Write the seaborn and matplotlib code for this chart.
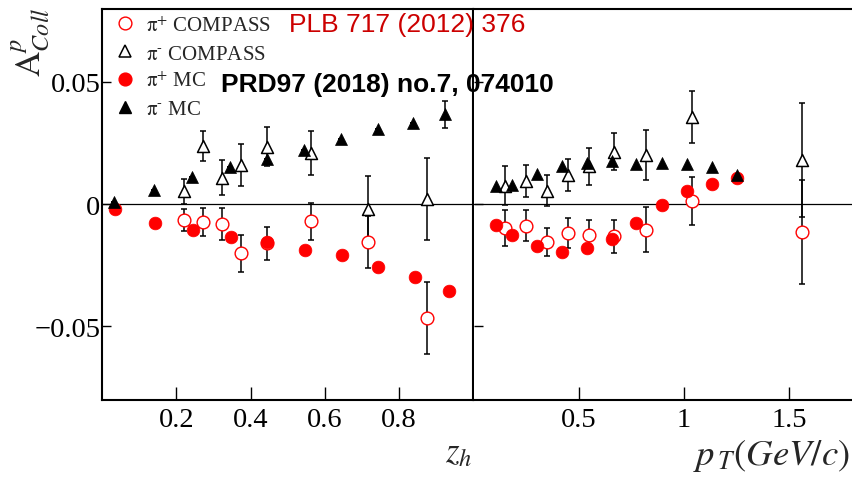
import numpy as np
import pandas as pd
import matplotlib
matplotlib.use("Agg")
import matplotlib.pyplot as plt
import seaborn as sns
from matplotlib.lines import Line2D

# ---------------- data: z_h panel ----------------
zh_mc_x = [0.032, 0.141, 0.243, 0.344, 0.445, 0.543, 0.643, 0.742, 0.838, 0.922]
zh_mc_pim = [0.0010, 0.0059, 0.0111, 0.0152, 0.0186, 0.0223, 0.0268, 0.0309, 0.0333, 0.0367]
zh_mc_pim_err = [0, 0, 0, 0, 0, 0, 0, 0, 0, 0.0054]
zh_mc_pip_x = [0.036, 0.142, 0.245, 0.346, 0.445, 0.546, 0.645, 0.744, 0.842, 0.933]
zh_mc_pip = [-0.0022, -0.0078, -0.0106, -0.0133, -0.0154, -0.0187, -0.0208, -0.0259, -0.0298, -0.0356]

zh_cp_x = [0.222, 0.273, 0.323, 0.374, 0.443, 0.563, 0.715, 0.876]
zh_cp_pip = [-0.0066, -0.0073, -0.0082, -0.0201, -0.0160, -0.0071, -0.0156, -0.0466]
zh_cp_pip_err = [0.0044, 0.0056, 0.0065, 0.0076, 0.0067, 0.0077, 0.0107, 0.0149]
zh_cp_pim = [0.0053, 0.0238, 0.0108, 0.0161, 0.0234, 0.0210, -0.0018, 0.0020]
zh_cp_pim_err = [0.0051, 0.0061, 0.0072, 0.0086, 0.0080, 0.0089, 0.0133, 0.0168]

# ---------------- data: p_T panel ----------------
pt_mc_x = [0.108, 0.184, 0.303, 0.420, 0.540, 0.659, 0.775, 0.895, 1.014, 1.133, 1.254]
pt_mc_pim = [0.0073, 0.0079, 0.0123, 0.0156, 0.0168, 0.0175, 0.0164, 0.0170, 0.0164, 0.0153, 0.0117]
pt_mc_pip = [-0.0084, -0.0125, -0.0173, -0.0195, -0.0181, -0.0143, -0.0079, -0.0005, 0.0052, 0.0081, 0.0108]

pt_cp_x = [0.149, 0.251, 0.351, 0.451, 0.549, 0.670, 0.819, 1.041, 1.560]
pt_cp_pip = [-0.0099, -0.0088, -0.0156, -0.0117, -0.0126, -0.0132, -0.0104, 0.0012, -0.0114]
pt_cp_pip_err = [0.0074, 0.0062, 0.0057, 0.0061, 0.0061, 0.0068, 0.0092, 0.0098, 0.0214]
pt_cp_pim = [0.0076, 0.0093, 0.0055, 0.0119, 0.0155, 0.0215, 0.0200, 0.0356, 0.0182]
pt_cp_pim_err = [0.0080, 0.0065, 0.0062, 0.0067, 0.0075, 0.0075, 0.0103, 0.0108, 0.0233]

zh_ticks = [0.2, 0.4, 0.6, 0.8]
pt_ticks = [0.5, 1.0, 1.5]
pt_ticklabels = ["0.5", "1", "1.5"]
y_ticks = [-0.05, 0.0, 0.05]
y_ticklabels = ["\u22120.05", "0", "0.05"]

legend_labels = [r"$\mathrm{\pi}^{+}$ COMPASS", r"$\mathrm{\pi}^{\text{-}}$ COMPASS",
                 r"$\mathrm{\pi}^{+}$ MC", r"$\mathrm{\pi}^{\text{-}}$ MC"]

# ---------------- style ----------------
sns.set_theme(style="ticks")
plt.rcParams["font.family"] = ["Liberation Serif", "DejaVu Serif"]
plt.rcParams["mathtext.fontset"] = "stix"

W, H = 852, 481
fig = plt.figure(figsize=(W / 100, H / 100), dpi=100)
fig.patch.set_facecolor("white")

left_px, mid_px, right_px = 102, 473.5, 852
top_px, bot_px = 9.5, 400.7
b = 1 - bot_px / H
h = (bot_px - top_px) / H
ax1 = fig.add_axes([left_px / W, b, (mid_px - left_px) / W, h])
ax2 = fig.add_axes([mid_px / W, b, (right_px - mid_px) / W, h], sharey=ax1)

S_CIRC = 84
S_TRI = 74


def draw_panel(ax, cp_x, cp_pip, cp_pip_err, cp_pim, cp_pim_err,
               mcpip_x, mc_pip, mcpim_x, mc_pim, mc_pim_err=None):
    ax.axhline(0, color="black", lw=0.9, zorder=1)
    ax.errorbar(cp_x, cp_pip, yerr=cp_pip_err, fmt="none", ecolor="black",
                elinewidth=1.1, capsize=2.2, capthick=1.1, zorder=2)
    ax.errorbar(cp_x, cp_pim, yerr=cp_pim_err, fmt="none", ecolor="black",
                elinewidth=1.1, capsize=2.2, capthick=1.1, zorder=2)
    if mc_pim_err is not None:
        ax.errorbar(mcpim_x, mc_pim, yerr=mc_pim_err, fmt="none", ecolor="black",
                    elinewidth=1.1, capsize=2.2, capthick=1.1, zorder=2)
    d_cp_pip = pd.DataFrame({"x": cp_x, "y": cp_pip})
    d_cp_pim = pd.DataFrame({"x": cp_x, "y": cp_pim})
    d_mc_pip = pd.DataFrame({"x": mcpip_x, "y": mc_pip})
    d_mc_pim = pd.DataFrame({"x": mcpim_x, "y": mc_pim})
    sns.scatterplot(data=d_cp_pip, x="x", y="y", ax=ax, marker="o", s=S_CIRC,
                    facecolor="white", edgecolor="red", linewidth=1.0, zorder=3, legend=False)
    sns.scatterplot(data=d_cp_pim, x="x", y="y", ax=ax, marker="^", s=S_TRI,
                    facecolor="white", edgecolor="black", linewidth=1.1, zorder=3, legend=False)
    sns.scatterplot(data=d_mc_pip, x="x", y="y", ax=ax, marker="o", s=S_CIRC,
                    color="red", edgecolor="red", linewidth=0.5, zorder=4, legend=False)
    sns.scatterplot(data=d_mc_pim, x="x", y="y", ax=ax, marker="^", s=S_TRI,
                    color="black", edgecolor="black", linewidth=0.5, zorder=5, legend=False)


draw_panel(ax1, zh_cp_x, zh_cp_pip, zh_cp_pip_err, zh_cp_pim, zh_cp_pim_err,
           zh_mc_pip_x, zh_mc_pip, zh_mc_x, zh_mc_pim, zh_mc_pim_err)
draw_panel(ax2, pt_cp_x, pt_cp_pip, pt_cp_pip_err, pt_cp_pim, pt_cp_pim_err,
           pt_mc_x, pt_mc_pip, pt_mc_x, pt_mc_pim)

ax1.set_xlim(0, 1.0)
ax2.set_xlim(0, 1.8)
ax1.set_ylim(-0.08, 0.08)

for ax in (ax1, ax2):
    ax.set_xlabel("")
    ax.set_ylabel("")
    for sp in ax.spines.values():
        sp.set_linewidth(1.5)
        sp.set_color("black")
    ax.tick_params(axis="x", direction="in", length=9.5, width=1.0, pad=5,
                   labelsize=20.5, colors="black", top=False)
    ax.tick_params(axis="y", direction="in", length=6.5, width=1.0, pad=1,
                   labelsize=20.5, colors="black", right=False)

ax2.spines["right"].set_visible(False)
ax2.spines["left"].set_visible(False)

ax1.set_xticks(zh_ticks)
ax1.set_xticklabels([f"{t:.1f}" for t in zh_ticks])
ax2.set_xticks(pt_ticks)
ax2.set_xticklabels(pt_ticklabels)
ax1.set_yticks(y_ticks)
ax1.set_yticklabels(y_ticklabels)
ax2.tick_params(axis="y", labelleft=False)

# axis titles
fig.text(472 / W, 1 - 462 / H, r"$z_{h}$", ha="right", va="baseline", fontsize=25)
fig.text(850 / W, 1 - 465 / H, r"$p_{\,T}(GeV/c)$", ha="right", va="baseline", fontsize=26.5)
fig.text(30 / W, 1 - 42 / H, r"$\mathrm{A}^{p}_{Coll}$", rotation=90, ha="center",
         va="center", fontsize=25)

# annotations
fig.text(289 / W, 1 - 31.7 / H, "PLB 717 (2012) 376", color="#cc0000",
         family=["Liberation Sans"], fontsize=19, ha="left", va="baseline")
fig.text(220.7 / W, 1 - 91.7 / H, "PRD97 (2018) no.7, 074010", color="black",
         family=["Liberation Sans"], fontweight="bold", fontsize=19, ha="left", va="baseline")

# legend
handles = [
    Line2D([], [], ls="none", marker="o", markersize=9.2, markerfacecolor="white",
           markeredgecolor="red", markeredgewidth=1.0),
    Line2D([], [], ls="none", marker="^", markersize=8.6, markerfacecolor="white",
           markeredgecolor="black", markeredgewidth=1.1),
    Line2D([], [], ls="none", marker="o", markersize=9.2, color="red"),
    Line2D([], [], ls="none", marker="^", markersize=8.6, color="black"),
]
fig.legend(handles, legend_labels, loc="upper left",
           bbox_to_anchor=(115 / W, 1 - 17 / H), bbox_transform=fig.transFigure,
           frameon=False, fontsize=15, handlelength=1.0, handletextpad=0.5,
           labelspacing=0.40, borderpad=0, borderaxespad=0)

fig.savefig("out.png", dpi=100, facecolor="white")
